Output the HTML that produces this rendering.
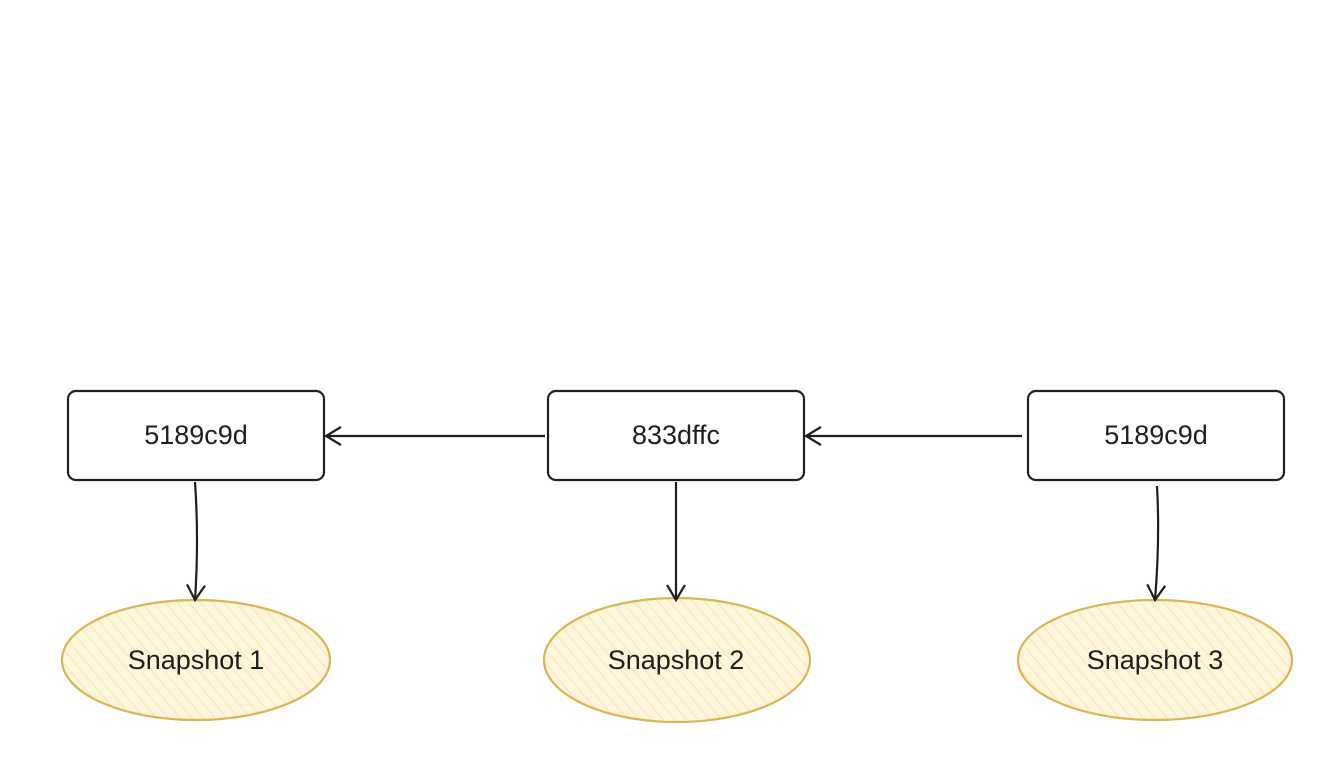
<!DOCTYPE html>
<html><head><meta charset="utf-8"><style>
html,body{margin:0;padding:0;background:#fff;width:1322px;height:782px;overflow:hidden}
text{font-family:"Liberation Sans",sans-serif;font-size:27px;fill:#1e1e1e}
</style></head><body>
<svg width="1322" height="782" viewBox="0 0 1322 782" xmlns="http://www.w3.org/2000/svg">
<defs>
<pattern id="h" width="9" height="9" patternUnits="userSpaceOnUse" patternTransform="rotate(-40)">
<rect width="9" height="9" fill="#fdf5dc"/><line x1="0" y1="0" x2="0" y2="9" stroke="#f3dc98" stroke-width="1.2"/>
</pattern>
<marker id="a" markerWidth="24" markerHeight="24" refX="18" refY="12" orient="auto" markerUnits="userSpaceOnUse">
<path d="M3,3 L18,12 L3,21" fill="none" stroke="#1e1e1e" stroke-width="2.2"/>
</marker>
</defs>
<g fill="none" stroke="#1e1e1e" stroke-width="2.2">
<rect x="68" y="391" width="256" height="89" rx="8"/>
<rect x="548" y="391" width="256" height="89" rx="8"/>
<rect x="1028" y="391" width="256" height="89" rx="8"/>
</g>
<g fill="url(#h)" stroke="#d6b656" stroke-width="2.2">
<ellipse cx="196" cy="660" rx="134" ry="60"/>
<ellipse cx="677" cy="660" rx="133" ry="62"/>
<ellipse cx="1155" cy="660" rx="137" ry="60"/>
</g>
<g fill="none" stroke="#1e1e1e" stroke-width="2.2" marker-end="url(#a)">
<path d="M545,436 L326,436"/>
<path d="M1022,436 L806,436"/>
<path d="M195,482 Q199,540 195,600"/>
<path d="M676,482 L676,600"/>
<path d="M1157,486 Q1160,540 1155,600"/>
</g>
<g text-anchor="middle">
<text x="196" y="444">5189c9d</text>
<text x="676" y="444">833dffc</text>
<text x="1156" y="444">5189c9d</text>
<text x="196" y="669">Snapshot 1</text>
<text x="676" y="669">Snapshot 2</text>
<text x="1155" y="669">Snapshot 3</text>
</g>
</svg>
</body></html>
